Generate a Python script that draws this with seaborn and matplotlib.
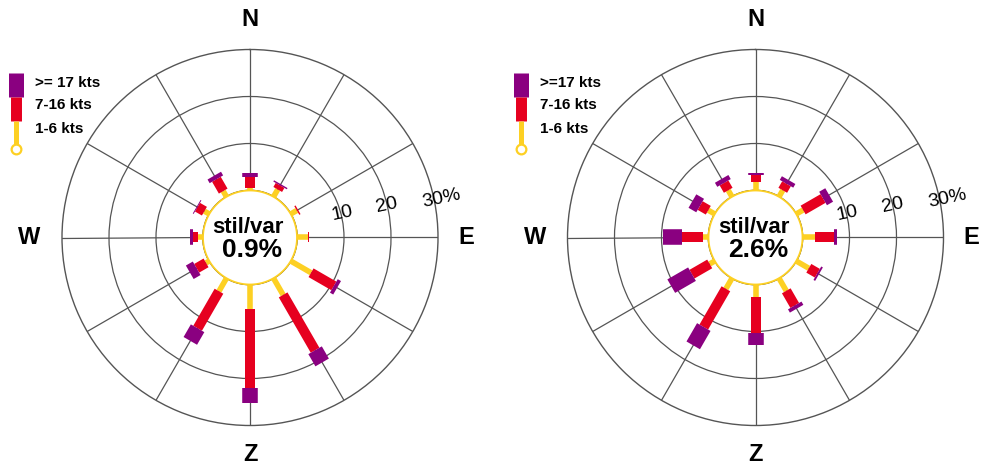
import numpy as np
import pandas as pd
import matplotlib
matplotlib.use('Agg')
import matplotlib.pyplot as plt
import seaborn as sns

##################################################################
sns.set_theme(style='white')
plt.rcParams['font.family'] = ['Liberation Sans', 'DejaVu Sans']
plt.rcParams['text.color'] = 'black'
##################################################################

directions = [0, 30, 60, 90, 120, 150, 180, 210, 240, 270, 300, 330]
compass = ['N', 'E', 'Z', 'W']
compass_deg = [0, 90, 180, 270]
compass_r = [36.3, 36.0, 36.2, 37.0]
ring_labels = ['10', '20', '30%']
ring_values = [10.2, 19.9, 31.6]
ring_bearing = [75.3, 76.6, 78.5]

# percentages per speed class, one value per direction
left_calm = '0.9%'
left_low = [0.6, 1.8, 1.5, 2.3, 5.0, 4.1, 5.2, 3.2, 0.8, 1.1, 1.2, 1.4]
left_mid = [2.3, 1.0, 0.3, 0.3, 5.6, 13.6, 16.9, 9.1, 2.3, 1.1, 1.7, 2.9]
left_high = [0.8, 0.3, 0.0, 0.0, 0.8, 3.0, 3.2, 3.1, 1.7, 0.55, 0.2, 0.9]

right_calm = '2.6%'
right_low = [1.8, 1.6, 1.7, 2.7, 3.1, 3.1, 2.7, 2.6, 1.25, 1.1, 1.6, 1.6]
right_mid = [1.4, 1.6, 4.9, 4.1, 2.1, 3.6, 7.7, 9.4, 4.35, 4.6, 2.0, 1.8]
right_high = [0.5, 0.9, 1.5, 0.6, 0.4, 0.8, 2.5, 4.5, 5.1, 3.9, 1.9, 1.0]

legend_left = ['>= 17 kts', '7-16 kts', '1-6 kts']
legend_right = ['>=17 kts', '7-16 kts', '1-6 kts']

colors = ['#FDD023', '#E6001F', '#8A0080']
widths = [4.0, 7.2, 11.2]
gridcol = '#555555'


def draw_rose(ax, low, mid, high, calm):
    ax.set_theta_zero_location('N')
    ax.set_theta_direction(-1)
    ax.set_ylim(0, 30)
    ax.set_rorigin(-10)
    theta = np.deg2rad(directions)
    ax.set_xticks(theta)
    ax.set_xticklabels([])
    ax.set_yticks([10, 20])
    ax.set_yticklabels([])
    ax.grid(True, color=gridcol, lw=0.9)
    ax.spines['polar'].set_color(gridcol)
    ax.spines['polar'].set_linewidth(1.0)
    ax.spines['inner'].set_visible(False)

    low = np.array(low); mid = np.array(mid); high = np.array(high)
    edges = [np.zeros(len(low)), low, low + mid, low + mid + high]
    for k in range(3):
        df = pd.DataFrame({'theta': np.concatenate([theta, theta]),
                           'r': np.concatenate([edges[k], edges[k + 1]]),
                           'dir': directions * 2})
        sns.lineplot(data=df, x='theta', y='r', units='dir', estimator=None, sort=False,
                     color=colors[k], lw=widths[k], solid_capstyle='butt', ax=ax, zorder=3 + k)

    # calm circle, white inside so the spokes stop at its edge
    tt = np.linspace(0, 2 * np.pi, 361)
    ax.fill(tt, np.zeros_like(tt), facecolor='white', edgecolor=colors[0], lw=1.3, zorder=7,
            clip_on=False)
    ax.set_xlabel('')
    ax.set_ylabel('')

    ax.text(0.495, 0.527, 'stil/var', transform=ax.transAxes, ha='center', va='center',
            fontsize=16, fontweight='bold', zorder=8)
    ax.text(0.506, 0.467, calm, transform=ax.transAxes, ha='center', va='center',
            fontsize=19, fontweight='bold', zorder=8)

    for lab, r, b in zip(ring_labels, ring_values, ring_bearing):
        ax.text(np.deg2rad(b), r, lab, ha='center', va='center', fontsize=14,
                rotation=12, clip_on=False, zorder=8)
    for lab, d, r in zip(compass, compass_deg, compass_r):
        ax.text(np.deg2rad(d), r, lab, ha='center', va='center', fontsize=17,
                fontweight='bold', clip_on=False)


def draw_legend(lax, x0, labels):
    xc = x0 + 16.5
    lax.plot([xc, xc], [73, 97], color=colors[2], lw=10.8, solid_capstyle='butt')
    lax.plot([xc, xc], [97, 121], color=colors[1], lw=7.9, solid_capstyle='butt')
    lax.plot([xc, xc], [121, 146], color=colors[0], lw=3.6, solid_capstyle='butt')
    lax.plot([xc], [149], marker='o', ms=7, mfc='white', mec=colors[0], mew=1.6)
    for lab, y in zip(labels, [83, 105, 129]):
        lax.text(x0 + 35, y, lab, ha='left', va='center', fontsize=11, fontweight='bold')


W, H = 1006, 465
fig = plt.figure(figsize=(W / 100, H / 100), dpi=100)
R = 188
ax1 = fig.add_axes([(250 - R) / W, (H - 237.5 - R) / H, 2 * R / W, 2 * R / H], projection='polar')
ax2 = fig.add_axes([(755.5 - R) / W, (H - 237.5 - R) / H, 2 * R / W, 2 * R / H], projection='polar')
draw_rose(ax1, left_low, left_mid, left_high, left_calm)
draw_rose(ax2, right_low, right_mid, right_high, right_calm)

lax = fig.add_axes([0, 0, 1, 1])
lax.set_xlim(0, W)
lax.set_ylim(H, 0)
lax.axis('off')
draw_legend(lax, 0, legend_left)
draw_legend(lax, 505, legend_right)

plt.savefig('out.png', dpi=100)
